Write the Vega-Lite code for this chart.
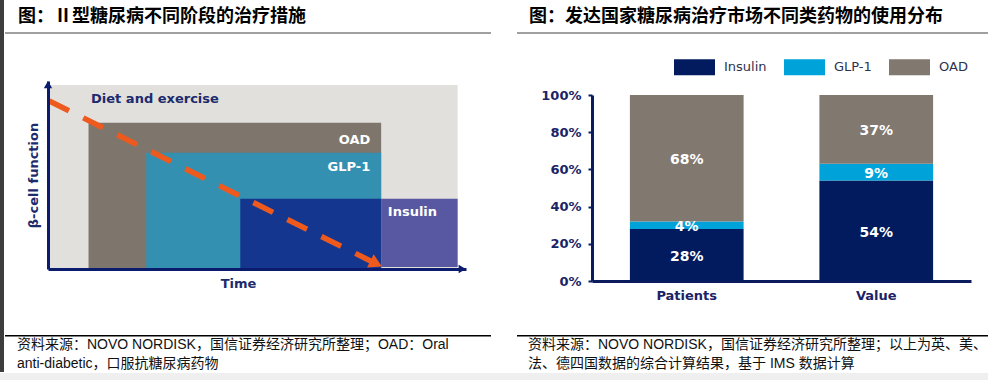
{
  "$schema": "https://vega.github.io/schema/vega-lite/v6.json",
  "background": "white",
  "padding": 0,
  "config": {"view": {"stroke": null}, "concat": {"spacing": 0}},
  "datasets": {
    "blank": [],
    "stages": [
      {"part": "Diet and exercise", "t0": 0, "t1": 9.8, "f0": 0, "f1": 9.79},
      {"part": "OAD", "t0": 0.97, "t1": 7.97, "f0": 0, "f1": 7.78},
      {"part": "GLP-1", "t0": 2.35, "t1": 7.97, "f0": 0, "f1": 6.19},
      {"part": "Insulin", "t0": 4.6, "t1": 7.97, "f0": 0, "f1": 3.74},
      {"part": "Insulin only", "t0": 7.97, "t1": 9.8, "f0": 0.1, "f1": 3.74}
    ],
    "labels": [
      {"label": "Diet and exercise", "t": 1.03, "f": 9.06},
      {"label": "OAD", "t": 7.71, "f": 6.84},
      {"label": "GLP-1", "t": 7.71, "f": 5.43},
      {"label": "Insulin", "t": 8.13, "f": 3.05}
    ],
    "decline": [
      {"t": 0.03, "f": 8.94},
      {"t": 7.85, "f": 0.28}
    ],
    "axis_heads": [
      {"dir": "up", "t": 0, "f": 9.81},
      {"dir": "right", "t": 9.91, "f": 0}
    ],
    "share": [
      {"group": "Patients", "drug": "Insulin", "k": 1, "pct": 0.28},
      {"group": "Patients", "drug": "GLP-1", "k": 2, "pct": 0.04},
      {"group": "Patients", "drug": "OAD", "k": 3, "pct": 0.68},
      {"group": "Value", "drug": "Insulin", "k": 1, "pct": 0.54},
      {"group": "Value", "drug": "GLP-1", "k": 2, "pct": 0.09},
      {"group": "Value", "drug": "OAD", "k": 3, "pct": 0.37}
    ]
  },
  "spacing": 0,
  "resolve": {"scale": {"color": "independent", "shape": "independent"}, "legend": {"color": "independent"}},
  "vconcat": [
    {
      "spacing": 0,
      "resolve": {"scale": {"color": "independent", "shape": "independent"}, "legend": {"color": "independent"}},
      "hconcat": [
        {"width": 4, "height": 372, "view": {"fill": "#3d3d3d"}, "data": {"name": "blank"}, "mark": "point"},
        {
          "spacing": 0,
          "resolve": {"scale": {"color": "independent", "shape": "independent"}, "legend": {"color": "independent"}},
          "vconcat": [
            {
              "width": 486,
              "height": 34,
              "data": {"values": [{"title": "图：Ⅱ型糖尿病不同阶段的治疗措施"}]},
              "layer": [
                {"mark": {"type": "rule", "color": "#808080", "strokeWidth": 1.5},
                 "encoding": {"y": {"datum": 0.03, "type": "quantitative", "scale": {"domain": [0, 1]}, "axis": null}}},
                {"mark": {"type": "text", "align": "left", "baseline": "middle", "dx": 13, "font": "Noto Sans CJK SC", "fontSize": 18, "fontWeight": "bold", "color": "#000000"},
                 "encoding": {"text": {"field": "title"}, "x": {"datum": 0, "type": "quantitative", "scale": {"domain": [0, 1]}, "axis": null}}}
              ]
            },
            {"width": 486, "height": 46, "data": {"name": "blank"}, "mark": "point"},
            {
              "spacing": 0,
              "bounds": "flush",
              "resolve": {"scale": {"color": "independent", "shape": "independent"}, "legend": {"color": "independent"}},
              "hconcat": [
                {"width": 43, "height": 254, "data": {"name": "blank"}, "mark": "point"},
                {
                  "width": 418,
                  "height": 188,
                  "layer": [
                    {
                      "data": {"name": "stages"},
                      "mark": {"type": "rect"},
                      "encoding": {
                        "x": {"field": "t0", "type": "quantitative", "scale": {"domain": [0, 10], "nice": false, "zero": false},
                              "axis": {"title": "Time", "titleFont": "DejaVu Sans", "titleFontSize": 13, "titleFontWeight": "bold", "titleColor": "#1c2b6e", "titlePadding": 8, "titleX": 190, "labels": false, "ticks": false, "grid": false, "domainColor": "#0b1c6e", "domainWidth": 3, "zindex": 1}},
                        "x2": {"field": "t1"},
                        "y": {"field": "f0", "type": "quantitative", "scale": {"domain": [0, 10], "nice": false, "zero": false},
                              "axis": {"title": "β-cell function", "titleFont": "DejaVu Sans", "titleFontSize": 13, "titleFontWeight": "bold", "titleColor": "#1c2b6e", "titlePadding": 8, "labels": false, "ticks": false, "grid": false, "domainColor": "#0b1c6e", "domainWidth": 3, "zindex": 1}},
                        "y2": {"field": "f1"},
                        "color": {"field": "part", "type": "nominal",
                                  "scale": {"domain": ["Diet and exercise", "OAD", "GLP-1", "Insulin", "Insulin only"], "range": ["#e1e0dc", "#7e756c", "#3490b1", "#14368e", "#5857a2"]},
                                  "legend": null}
                      }
                    },
                    {
                      "data": {"name": "decline"},
                      "mark": {"type": "line", "color": "#ee5a1e", "strokeWidth": 5.5, "strokeDash": [22, 16], "strokeCap": "butt"},
                      "encoding": {"x": {"field": "t", "type": "quantitative"}, "y": {"field": "f", "type": "quantitative"}}
                    },
                    {
                      "data": {"name": "decline"},
                      "transform": [{"filter": "datum.t > 5"}],
                      "mark": {"type": "point", "shape": "triangle-right", "angle": 26.5, "size": 220, "filled": true, "color": "#ee5a1e", "opacity": 1},
                      "encoding": {"x": {"field": "t", "type": "quantitative"}, "y": {"field": "f", "type": "quantitative"}}
                    },
                    {
                      "data": {"name": "axis_heads"},
                      "mark": {"type": "point", "size": 70, "filled": true, "color": "#0b1c6e", "opacity": 1},
                      "encoding": {
                        "x": {"field": "t", "type": "quantitative"},
                        "y": {"field": "f", "type": "quantitative"},
                        "shape": {"field": "dir", "type": "nominal", "scale": {"domain": ["up", "right"], "range": ["triangle-up", "triangle-right"]}, "legend": null}
                      }
                    },
                    {
                      "data": {"name": "labels"},
                      "transform": [{"filter": "datum.label === 'Diet and exercise'"}],
                      "mark": {"type": "text", "align": "left", "baseline": "middle", "font": "DejaVu Sans", "fontWeight": "bold", "fontSize": 13, "color": "#1c2b6e"},
                      "encoding": {"x": {"field": "t", "type": "quantitative"}, "y": {"field": "f", "type": "quantitative"}, "text": {"field": "label"}}
                    },
                    {
                      "data": {"name": "labels"},
                      "transform": [{"filter": "datum.label === 'OAD' || datum.label === 'GLP-1'"}],
                      "mark": {"type": "text", "align": "right", "baseline": "middle", "font": "DejaVu Sans", "fontWeight": "bold", "fontSize": 13, "color": "#ffffff"},
                      "encoding": {"x": {"field": "t", "type": "quantitative"}, "y": {"field": "f", "type": "quantitative"}, "text": {"field": "label"}}
                    },
                    {
                      "data": {"name": "labels"},
                      "transform": [{"filter": "datum.label === 'Insulin'"}],
                      "mark": {"type": "text", "align": "left", "baseline": "middle", "font": "DejaVu Sans", "fontWeight": "bold", "fontSize": 13, "color": "#ffffff"},
                      "encoding": {"x": {"field": "t", "type": "quantitative"}, "y": {"field": "f", "type": "quantitative"}, "text": {"field": "label"}}
                    }
                  ]
                },
                {"width": 25, "height": 254, "data": {"name": "blank"}, "mark": "point"}
              ]
            },
            {
              "width": 486,
              "height": 38,
              "data": {"values": [{"note": "资料来源：NOVO NORDISK，国信证券经济研究所整理；OAD：Oral\nanti-diabetic，口服抗糖尿病药物"}]},
              "layer": [
                {"mark": {"type": "rule", "color": "#000000", "strokeWidth": 1.5},
                 "encoding": {"y": {"datum": 0.98, "type": "quantitative", "scale": {"domain": [0, 1]}, "axis": null}}},
                {"mark": {"type": "text", "align": "left", "baseline": "top", "dx": 12, "dy": 3, "lineBreak": "\n", "lineHeight": 19, "font": "Liberation Sans, Noto Sans CJK SC", "fontSize": 14, "color": "#111111"},
                 "encoding": {"text": {"field": "note"},
                              "x": {"datum": 0, "type": "quantitative", "scale": {"domain": [0, 1]}, "axis": null},
                              "y": {"datum": 1, "type": "quantitative"}}}
              ]
            }
          ]
        },
        {"width": 24, "height": 372, "data": {"name": "blank"}, "mark": "point"},
        {
          "spacing": 0,
          "resolve": {"scale": {"color": "independent", "shape": "independent"}, "legend": {"color": "independent"}},
          "vconcat": [
            {
              "width": 474,
              "height": 34,
              "data": {"values": [{"title": "图：发达国家糖尿病治疗市场不同类药物的使用分布"}]},
              "layer": [
                {"mark": {"type": "rule", "color": "#808080", "strokeWidth": 1.5},
                 "encoding": {"y": {"datum": 0.03, "type": "quantitative", "scale": {"domain": [0, 1]}, "axis": null}}},
                {"mark": {"type": "text", "align": "left", "baseline": "middle", "dx": 12, "font": "Noto Sans CJK SC", "fontSize": 18, "fontWeight": "bold", "color": "#000000"},
                 "encoding": {"text": {"field": "title"}, "x": {"datum": 0, "type": "quantitative", "scale": {"domain": [0, 1]}, "axis": null}}}
              ]
            },
            {"width": 474, "height": 11.5, "data": {"name": "blank"}, "mark": "point"},
            {
              "spacing": 0,
              "bounds": "flush",
              "resolve": {"scale": {"color": "independent", "shape": "independent"}, "legend": {"color": "independent"}},
              "hconcat": [
                {"width": 75, "height": 240, "data": {"name": "blank"}, "mark": "point"},
                {
                  "width": 379,
                  "height": 186,
                  "data": {"name": "share"},
                  "encoding": {
                    "x": {"field": "group", "type": "nominal", "sort": ["Patients", "Value"],
                          "scale": {"paddingInner": 0.4, "paddingOuter": 0.2},
                          "axis": {"title": null, "labelAngle": 0, "ticks": false, "domainColor": "#0b1c5e", "domainWidth": 3, "labelFont": "DejaVu Sans", "labelFontWeight": "bold", "labelFontSize": 13, "labelColor": "#1a2366", "labelPadding": 8}},
                    "y": {"field": "pct", "type": "quantitative", "stack": "zero", "scale": {"domain": [0, 1]},
                          "axis": {"title": null, "values": [0, 0.2, 0.4, 0.6, 0.8, 1], "format": ".0%", "grid": false, "domainColor": "#0b1c5e", "domainWidth": 3, "tickColor": "#0b1c5e", "tickSize": 4, "tickWidth": 2, "labelFont": "DejaVu Sans", "labelFontWeight": "bold", "labelFontSize": 13, "labelColor": "#1a2366", "labelPadding": 7}},
                    "order": {"field": "k", "type": "quantitative"}
                  },
                  "layer": [
                    {
                      "mark": {"type": "bar"},
                      "encoding": {
                        "color": {"field": "drug", "type": "nominal", "sort": ["Insulin", "GLP-1", "OAD"],
                                  "scale": {"domain": ["Insulin", "GLP-1", "OAD"], "range": ["#011b5e", "#00a2da", "#817870"]},
                                  "legend": {"orient": "none", "legendX": 82, "legendY": -48.5, "direction": "horizontal", "title": null,
                                             "symbolType": "M-1,-0.39H1V0.39H-1Z", "symbolSize": 1681, "symbolStrokeWidth": 0,
                                             "labelFont": "DejaVu Sans", "labelFontSize": 13, "labelColor": "#2d3250", "labelOffset": 9, "columnPadding": 17}}
                      }
                    },
                    {
                      "mark": {"type": "text", "color": "#ffffff", "font": "DejaVu Sans", "fontWeight": "bold", "fontSize": 14, "baseline": "middle", "dy": 2},
                      "encoding": {
                        "y": {"field": "pct", "type": "quantitative", "stack": "zero", "bandPosition": 0.5},
                        "detail": {"field": "drug"},
                        "text": {"field": "pct", "type": "quantitative", "format": ".0%"}
                      }
                    }
                  ]
                },
                {"width": 20, "height": 240, "data": {"name": "blank"}, "mark": "point"}
              ]
            },
            {
              "width": 474,
              "height": 38,
              "data": {"values": [{"note": "资料来源：NOVO NORDISK，国信证券经济研究所整理；以上为英、美、\n法、德四国数据的综合计算结果，基于 IMS 数据计算"}]},
              "layer": [
                {"mark": {"type": "rule", "color": "#000000", "strokeWidth": 1.5},
                 "encoding": {"y": {"datum": 0.98, "type": "quantitative", "scale": {"domain": [0, 1]}, "axis": null}}},
                {"mark": {"type": "text", "align": "left", "baseline": "top", "dx": 11, "dy": 3, "lineBreak": "\n", "lineHeight": 19, "font": "Liberation Sans, Noto Sans CJK SC", "fontSize": 14, "color": "#111111"},
                 "encoding": {"text": {"field": "note"},
                              "x": {"datum": 0, "type": "quantitative", "scale": {"domain": [0, 1]}, "axis": null},
                              "y": {"datum": 1, "type": "quantitative"}}}
              ]
            }
          ]
        }
      ]
    },
    {"width": 988, "height": 8, "view": {"fill": "#efefef"}, "data": {"name": "blank"}, "mark": "point"}
  ]
}
